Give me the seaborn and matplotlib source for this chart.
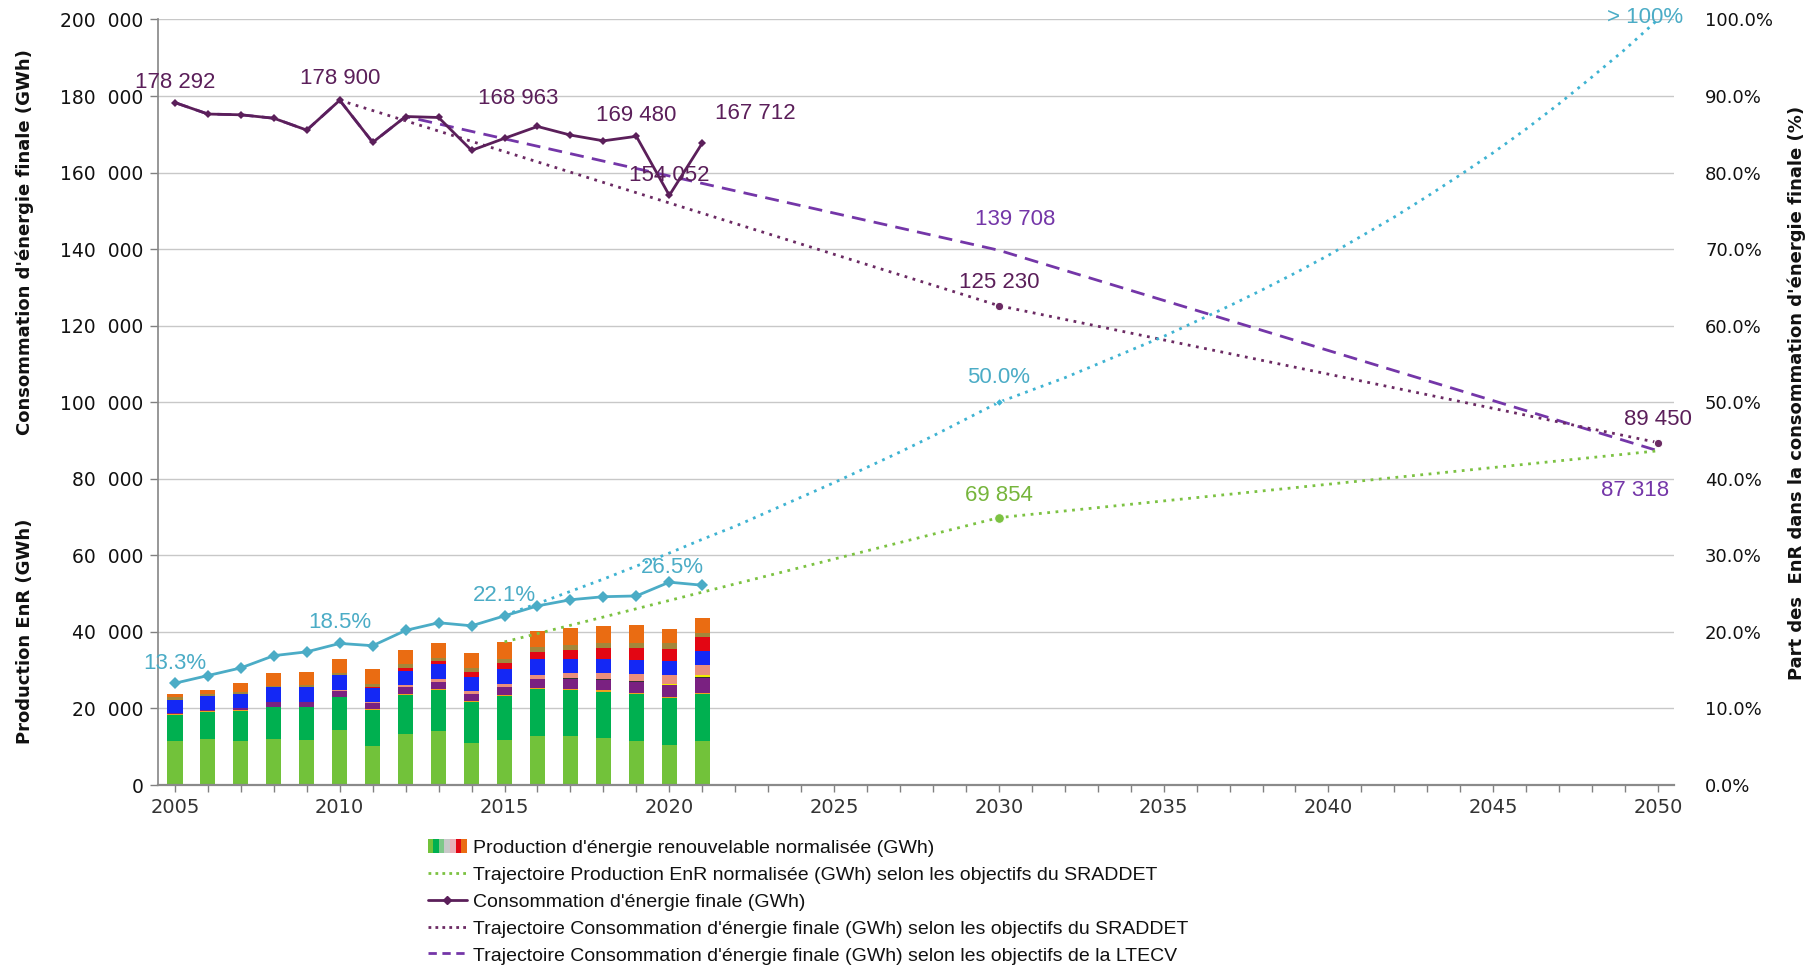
import matplotlib
matplotlib.use("Agg")
import numpy as np
import pandas as pd
import seaborn as sns
import matplotlib.pyplot as plt
from matplotlib import font_manager
from matplotlib.patches import Rectangle
from matplotlib.lines import Line2D
from matplotlib.legend_handler import HandlerTuple
from matplotlib.ticker import FuncFormatter, MultipleLocator

# ---------------- DATA ----------------
years = list(range(2005, 2022))

# Renewable production by source (GWh), bottom -> top
hydraulique   = [11600, 12000, 11500, 12000, 11800, 14400, 10100, 13400, 14000, 10900, 11800, 12800, 12800, 12200, 11400, 10400, 11400]
bois_energie  = [6800, 7100, 7800, 8300, 8500, 8500, 9600, 10200, 10800, 10800, 11400, 12300, 12000, 12200, 12300, 12300, 12300]
biogaz        = [200, 200, 200, 200, 200, 200, 200, 200, 200, 200, 300, 200, 300, 300, 300, 300, 300]
pac           = [300, 400, 700, 1200, 1200, 1500, 1500, 1900, 2000, 1900, 2200, 2500, 2700, 2700, 2900, 3200, 3900]
solaire_th    = [0, 0, 0, 0, 0, 0, 0, 0, 0, 0, 0, 0, 200, 300, 300, 0, 400]
geothermie    = [0, 0, 0, 0, 0, 0, 0, 0, 0, 0, 0, 0, 0, 0, 0, 300, 400]
dechets       = [0, 0, 0, 0, 0, 200, 400, 400, 700, 700, 700, 1000, 1300, 1600, 1800, 2200, 2600]
eolien        = [3400, 3600, 3700, 3800, 3900, 3900, 3500, 3700, 3800, 3800, 4000, 4000, 3700, 3500, 3700, 3600, 3600]
photovoltaique= [0, 0, 0, 0, 0, 0, 300, 700, 800, 1100, 1600, 2000, 2400, 2900, 3100, 3300, 3900]
biocarburants = [600, 400, 400, 400, 500, 600, 900, 1100, 800, 1100, 1000, 1200, 1100, 1400, 1300, 1400, 800]
chaleur_env   = [800, 1100, 2300, 3300, 3500, 3700, 3800, 3800, 3900, 4000, 4400, 4300, 4400, 4400, 4800, 3800, 4100]

filieres = ["Hydraulique", "Bois énergie", "Biogaz", "Pompes à chaleur", "Solaire thermique",
            "Géothermie", "Déchets", "Éolien", "Photovoltaïque", "Biocarburants", "Autres"]
filiere_values = [hydraulique, bois_energie, biogaz, pac, solaire_th, geothermie, dechets,
                  eolien, photovoltaique, biocarburants, chaleur_env]
filiere_colors = ["#72c23a", "#00b050", "#f0a020", "#7a2181", "#333333", "#f2ee00",
                  "#ea8f7c", "#1428f5", "#e30613", "#a3873a", "#ea6c12"]

# Final energy consumption (GWh)
consommation = [178292, 175300, 175100, 174200, 171100, 178900, 167900, 174650, 174400,
                165800, 168963, 172050, 169800, 168300, 169480, 154052, 167712]

# Share of renewables in final consumption
part_enr = [0.133, 0.143, 0.153, 0.169, 0.174, 0.185, 0.182, 0.202, 0.212, 0.208,
            0.221, 0.234, 0.242, 0.246, 0.247, 0.265, 0.261]

# Trajectories
traj_enr_years = [2015, 2030, 2050]
traj_enr_vals = [37400, 69854, 87318]

traj_sraddet_years = [2010, 2030, 2050]
traj_sraddet_vals = [178900, 125230, 89450]

traj_ltecv_years = [2005, 2006, 2007, 2008, 2009, 2010, 2011, 2012, 2030, 2050]
traj_ltecv_vals = [178292, 175300, 175100, 174200, 171100, 178900, 167900, 174650, 139708, 87318]

traj_part_years = list(range(2015, 2051))
traj_part_vals = [0.222, 0.237, 0.253, 0.269, 0.286, 0.303, 0.321, 0.338, 0.357, 0.376,
                  0.395, 0.415, 0.435, 0.456, 0.478, 0.500, 0.516, 0.532, 0.550, 0.568,
                  0.586, 0.606, 0.626, 0.647, 0.669, 0.692, 0.717, 0.742, 0.769, 0.797,
                  0.826, 0.857, 0.890, 0.925, 0.961, 1.000]

left_ticks = [0, 20000, 40000, 60000, 80000, 100000, 120000, 140000, 160000, 180000, 200000]

# ---------------- STYLE ----------------
sns.set_theme(style="white")
names = {f.name for f in font_manager.fontManager.ttflist}
NARROW = "Liberation Sans Narrow" if "Liberation Sans Narrow" in names else "Liberation Sans"
plt.rcParams["font.family"] = ["DejaVu Sans"]

C_CONSO = "#5b1f5a"
C_SRADDET = "#6b2a63"
C_LTECV = "#7436a8"
C_GREEN = "#7cc242"
C_CYAN = "#4bacc6"
C_CYAN_TRAJ = "#3fb3d2"

fig = plt.figure(figsize=(18.05, 9.65), dpi=100)
ax = fig.add_axes([0.0878, 0.1865, 0.8399, 0.7933])

# Stacked bars
rows = []
for name, vals in zip(filieres, filiere_values):
    for y, v in zip(years, vals):
        rows.append({"annee": y, "filiere": name, "valeur": v})
df_bars = pd.DataFrame(rows)
pal = dict(zip(filieres, filiere_colors))
sns.histplot(data=df_bars, x="annee", weights="valeur", hue="filiere",
             hue_order=filieres[::-1], multiple="stack", discrete=True, shrink=0.46,
             palette=pal, alpha=1, linewidth=0, legend=False, ax=ax, zorder=2)

# Consumption lines (left axis)
sns.lineplot(x=traj_ltecv_years, y=traj_ltecv_vals, ax=ax, color=C_LTECV, lw=2,
             linestyle=(0, (5, 3)), zorder=3)
sns.lineplot(x=traj_sraddet_years, y=traj_sraddet_vals, ax=ax, color=C_SRADDET, lw=2,
             linestyle=(0, (1, 2)), marker="o", markersize=6, markevery=[1, 2], zorder=3)
sns.lineplot(x=traj_enr_years, y=traj_enr_vals, ax=ax, color=C_GREEN, lw=2,
             linestyle=(0, (1, 2)), marker="o", markersize=7, markevery=[1], zorder=3)
sns.lineplot(x=years, y=consommation, ax=ax, color=C_CONSO, lw=2, marker="D",
             markersize=4, markeredgewidth=0, zorder=4)

ax.set_xlim(2004.5, 2050.5)
ax.set_ylim(0, 200000)
ax.set_yticks(left_ticks)
ax.yaxis.set_major_formatter(FuncFormatter(lambda v, p: "0" if v == 0 else f"{int(v)//1000}  000"))
ax.xaxis.set_major_locator(MultipleLocator(5))
ax.xaxis.set_minor_locator(MultipleLocator(1))
ax.tick_params(axis="x", which="both", direction="out", length=5, width=1, colors="#808080",
               labelcolor="#333333", labelsize=14, pad=4, bottom=True)
ax.tick_params(axis="y", direction="out", length=6, width=1, colors="#808080",
               labelcolor="#111111", labelsize=13.5, pad=5, left=True)
ax.grid(axis="y", color="#c8c8c8", lw=1)
ax.set_axisbelow(True)
ax.set_xlabel("")
ax.set_ylabel("")
for s in ["top", "right"]:
    ax.spines[s].set_visible(False)
ax.spines["left"].set_color("#8a8a8a")
ax.spines["bottom"].set_color("#8a8a8a")
ax.spines["bottom"].set_linewidth(1.6)

# Share (right axis)
ax2 = ax.twinx()
sns.lineplot(x=traj_part_years, y=traj_part_vals, ax=ax2, color=C_CYAN_TRAJ, lw=2,
             linestyle=(0, (1, 2)), marker="D", markersize=4, markevery=[15], zorder=3)
sns.lineplot(x=years, y=part_enr, ax=ax2, color=C_CYAN, lw=2, marker="D", markersize=6,
             markeredgewidth=0, zorder=4)
ax2.set_ylim(0, 1)
ax2.set_yticks(np.arange(0, 1.01, 0.1))
ax2.yaxis.set_major_formatter(FuncFormatter(lambda v, p: f"{v*100:.1f}%"))
ax2.tick_params(axis="y", length=0, labelsize=13, labelcolor="#111111", pad=22)
ax2.set_ylabel("")
for s in ax2.spines.values():
    s.set_visible(False)
ax2.set_xlim(2004.5, 2050.5)

# Annotations
lab = dict(family=[NARROW, "DejaVu Sans"], fontsize=16, ha="center", va="center")
conso_labels = [(2005, 183500, "178 292"), (2010, 184700, "178 900"), (2015.4, 179300, "168 963"),
                (2019.0, 174800, "169 480"), (2020.0, 159200, "154 052"), (2022.6, 175400, "167 712"),
                (2030, 131200, "125 230"), (2050, 95500, "89 450")]
for x, y, t in conso_labels:
    ax.text(x, y, t, color=C_CONSO, **lab)
for x, y, t in [(2030.5, 147700, "139 708"), (2049.3, 76900, "87 318")]:
    ax.text(x, y, t, color=C_LTECV, **lab)
ax.text(2030, 75700, "69 854", color="#76b53c", **lab)
for x, y, t in [(2005, 0.159, "13.3%"), (2010, 0.212, "18.5%"), (2015, 0.248, "22.1%"),
                (2020.1, 0.284, "26.5%"), (2030, 0.532, "50.0%"), (2049.6, 1.003, "> 100%")]:
    ax2.text(x, y, t, color=C_CYAN, **lab)

# Axis titles
fig.text(0.0139, 0.749, "Consommation d'énergie finale (GWh)", rotation=90, ha="center",
         va="center", fontsize=13, fontweight="bold", color="#111111")
fig.text(0.0139, 0.346, "Production EnR (GWh)", rotation=90, ha="center", va="center",
         fontsize=13, fontweight="bold", color="#111111")
fig.text(0.9952, 0.593, "Part des  EnR dans la consommation d'énergie finale (%)", rotation=90,
         ha="center", va="center", fontsize=13, fontweight="bold", color="#111111")

# Legend
grad_cols = ["#72c23a", "#00b050", "#7fc88a", "#c9c9c9", "#e8b0b8", "#e30613", "#ea6c12"]
grad = tuple(Rectangle((0, 0), 1, 1, facecolor=c, edgecolor="none") for c in grad_cols)
handles = [
    grad,
    Line2D([], [], color=C_GREEN, lw=2, linestyle=(0, (1, 1.5))),
    Line2D([], [], color=C_CONSO, lw=2, marker="D", markersize=4),
    Line2D([], [], color=C_SRADDET, lw=2, linestyle=(0, (1, 1.5))),
    Line2D([], [], color=C_LTECV, lw=2, linestyle=(0, (3, 2))),
]
labels = [
    "Production d'énergie renouvelable normalisée (GWh)",
    "Trajectoire Production EnR normalisée (GWh) selon les objectifs du SRADDET",
    "Consommation d'énergie finale (GWh)",
    "Trajectoire Consommation d'énergie finale (GWh) selon les objectifs du SRADDET",
    "Trajectoire Consommation d'énergie finale (GWh) selon les objectifs de la LTECV",
]
leg = fig.legend(handles, labels, loc="upper left", bbox_to_anchor=(0.237, 0.131), frameon=False,
                 handler_map={tuple: HandlerTuple(ndivide=None, pad=0)},
                 prop={"family": [NARROW, "DejaVu Sans"], "size": 14},
                 handlelength=2.0, handleheight=0.8, handletextpad=0.3, labelspacing=0.45,
                 borderaxespad=0, borderpad=0)
for t in leg.get_texts():
    t.set_color("#111111")

fig.savefig("out.png", dpi=100)
